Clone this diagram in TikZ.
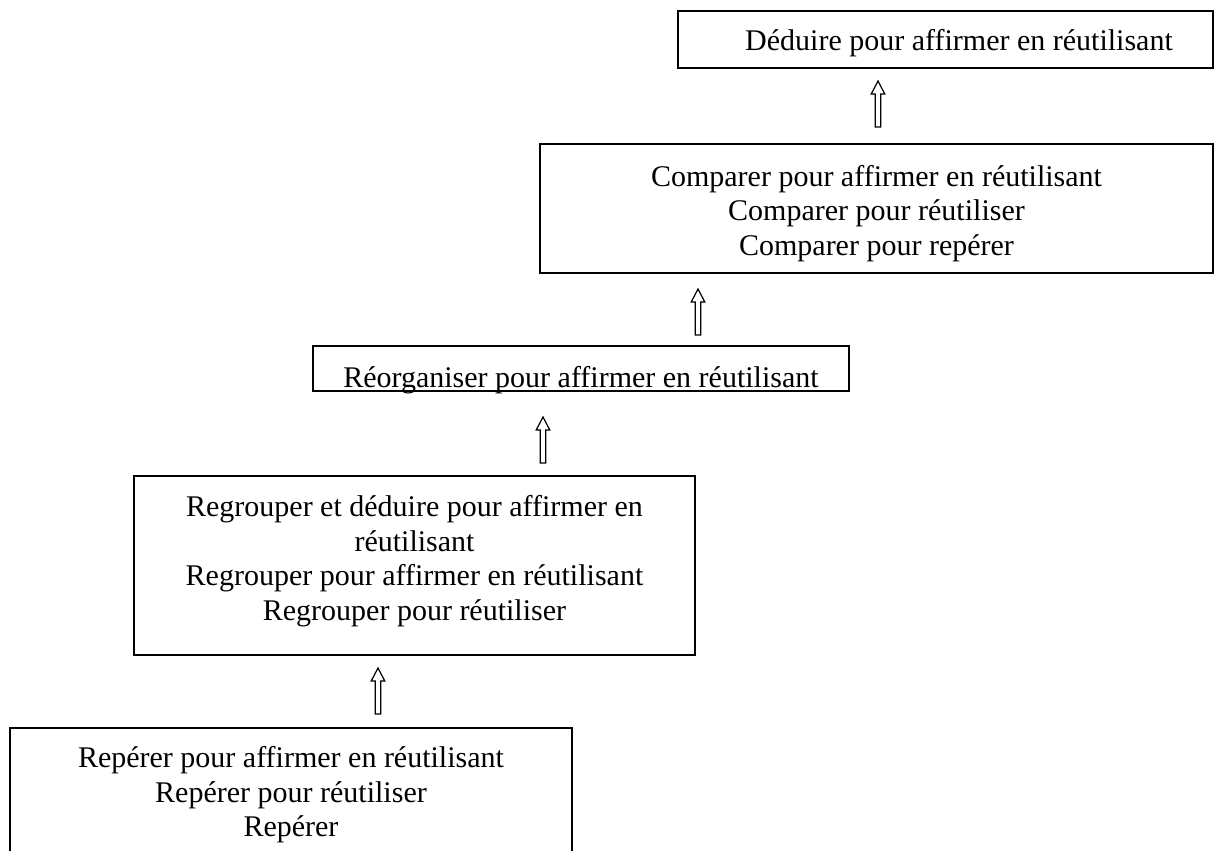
\documentclass[tikz,border=0pt]{standalone}
\usepackage{fontspec}
\setmainfont{Liberation Serif}
\begin{document}
\begin{tikzpicture}[x=0.75pt,y=-0.75pt,
  box/.style={draw, line width=1.2pt, inner sep=0pt},
  txt/.style={align=center, inner sep=0pt, font=\fontsize{22.5}{25.9}\selectfont},
  uparrow/.pic={\draw[line width=0.9pt, line join=miter]
      (-2.8,23) -- (-2.8,-10) -- (-6.8,-10) -- (0,-23) -- (6.8,-10) -- (2.8,-10) -- (2.8,23) -- cycle;}]
\useasboundingbox (0,0) rectangle (1226,850);

% boxes
\node[box, minimum width=401.25pt, minimum height=42.75pt] (b1) at (945.5,39.5) {};
\node[box, minimum width=504.75pt, minimum height=96.75pt] (b2) at (876.5,208.5) {};
\node[box, minimum width=402pt, minimum height=33.75pt] (b3) at (581,368.5) {};
\node[box, minimum width=420.75pt, minimum height=134.25pt] (b4) at (414.5,565.5) {};
\node[box, minimum width=421.5pt, minimum height=106.5pt] (b5) at (291,799) {};

% texts
\node[txt] (t1) at (959,43) {Déduire pour affirmer en réutilisant};
\node[txt] (t2) at (876.5,213.5) {Comparer pour affirmer en réutilisant\\Comparer pour réutiliser\\Comparer pour repérer};
\node[txt] (t3) at (581,380) {Réorganiser pour affirmer en réutilisant};
\node[txt] (t4) at (414.5,561) {Regrouper et déduire pour affirmer en\\réutilisant\\Regrouper pour affirmer en réutilisant\\Regrouper pour réutiliser};
\node[txt] (t5) at (291,795) {Repérer pour affirmer en réutilisant\\Repérer pour réutiliser\\Repérer};

% hollow arrows
\pic at (878,104) {uparrow};
\pic at (698,312) {uparrow};
\pic at (543,440) {uparrow};
\pic at (378,691) {uparrow};
\end{tikzpicture}
\end{document}
